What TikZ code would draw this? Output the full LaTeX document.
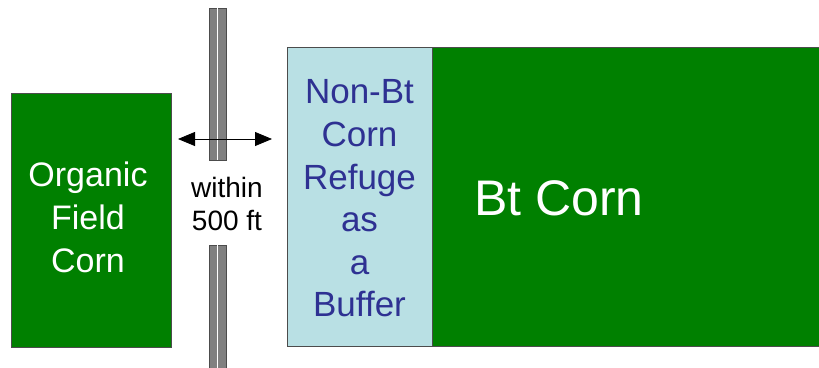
\documentclass[tikz,border=0pt]{standalone}
\usepackage{fontspec}
\setmainfont{Liberation Sans}
\usetikzlibrary{arrows.meta}
\definecolor{fieldgreen}{HTML}{008000}
\definecolor{refugeblue}{HTML}{B9E0E4}
\definecolor{textblue}{HTML}{2E3192}
\definecolor{roadgray}{HTML}{808080}
\begin{document}
\begin{tikzpicture}[x=1pt,y=-1pt,
  field/.style={draw=black!70, line width=0.8pt, fill=fieldgreen, inner sep=0pt, outer sep=0pt, anchor=north west},
  refugebox/.style={draw=black!70, line width=0.8pt, fill=refugeblue, inner sep=0pt, outer sep=0pt, anchor=north west},
  roadstrip/.style={draw=black!70, line width=0.9pt, fill=roadgray, inner sep=0pt, outer sep=0pt, anchor=north west, minimum width=17pt},
  distarrow/.style={arrows={Triangle[length=17pt,width=14pt]-Triangle[length=17pt,width=14pt]}, line width=0.8pt},
  whitelabel/.style={text=white, align=center, inner sep=0pt},
]
\useasboundingbox (0,0) rectangle (819,367);
\fill[white] (0,0) rectangle (819,367);
% fields
\node[field, minimum width=160pt, minimum height=254pt] (organic) at (11,93) {};
\node[refugebox, minimum width=145pt, minimum height=299pt] (refuge) at (287,47) {};
\node[field, minimum width=395pt, minimum height=299pt] (bt) at (432,47) {};
% road
\node[roadstrip, minimum height=152pt] (roadtop) at (209,8) {};
\node[roadstrip, minimum height=130pt] (roadbot) at (209,245) {};
\draw[white, line width=1.3pt] (roadtop.north) -- (roadtop.south);
\draw[white, line width=1.3pt] (roadbot.north) -- (roadbot.south);
% arrow
\coordinate (al) at (178,139);
\coordinate (ar) at (272,139);
\draw[distarrow] (al) -- (ar);
% labels
\node[whitelabel, font=\fontsize{34}{43}\selectfont] (orglabel) at (88,217) {Organic\\Field\\Corn};
\node[align=center, inner sep=0pt, font=\fontsize{28}{33}\selectfont] (dist) at (227,204) {within\\500 ft};
\node[text=textblue, align=center, inner sep=0pt, font=\fontsize{35}{42.6}\selectfont] (reflabel) at (359.5,198.5) {Non-Bt\\Corn\\Refuge\\as\\a\\Buffer};
\node[whitelabel, font=\fontsize{50}{60}\selectfont] (btlabel) at (559,198) {Bt Corn};
\end{tikzpicture}
\end{document}
